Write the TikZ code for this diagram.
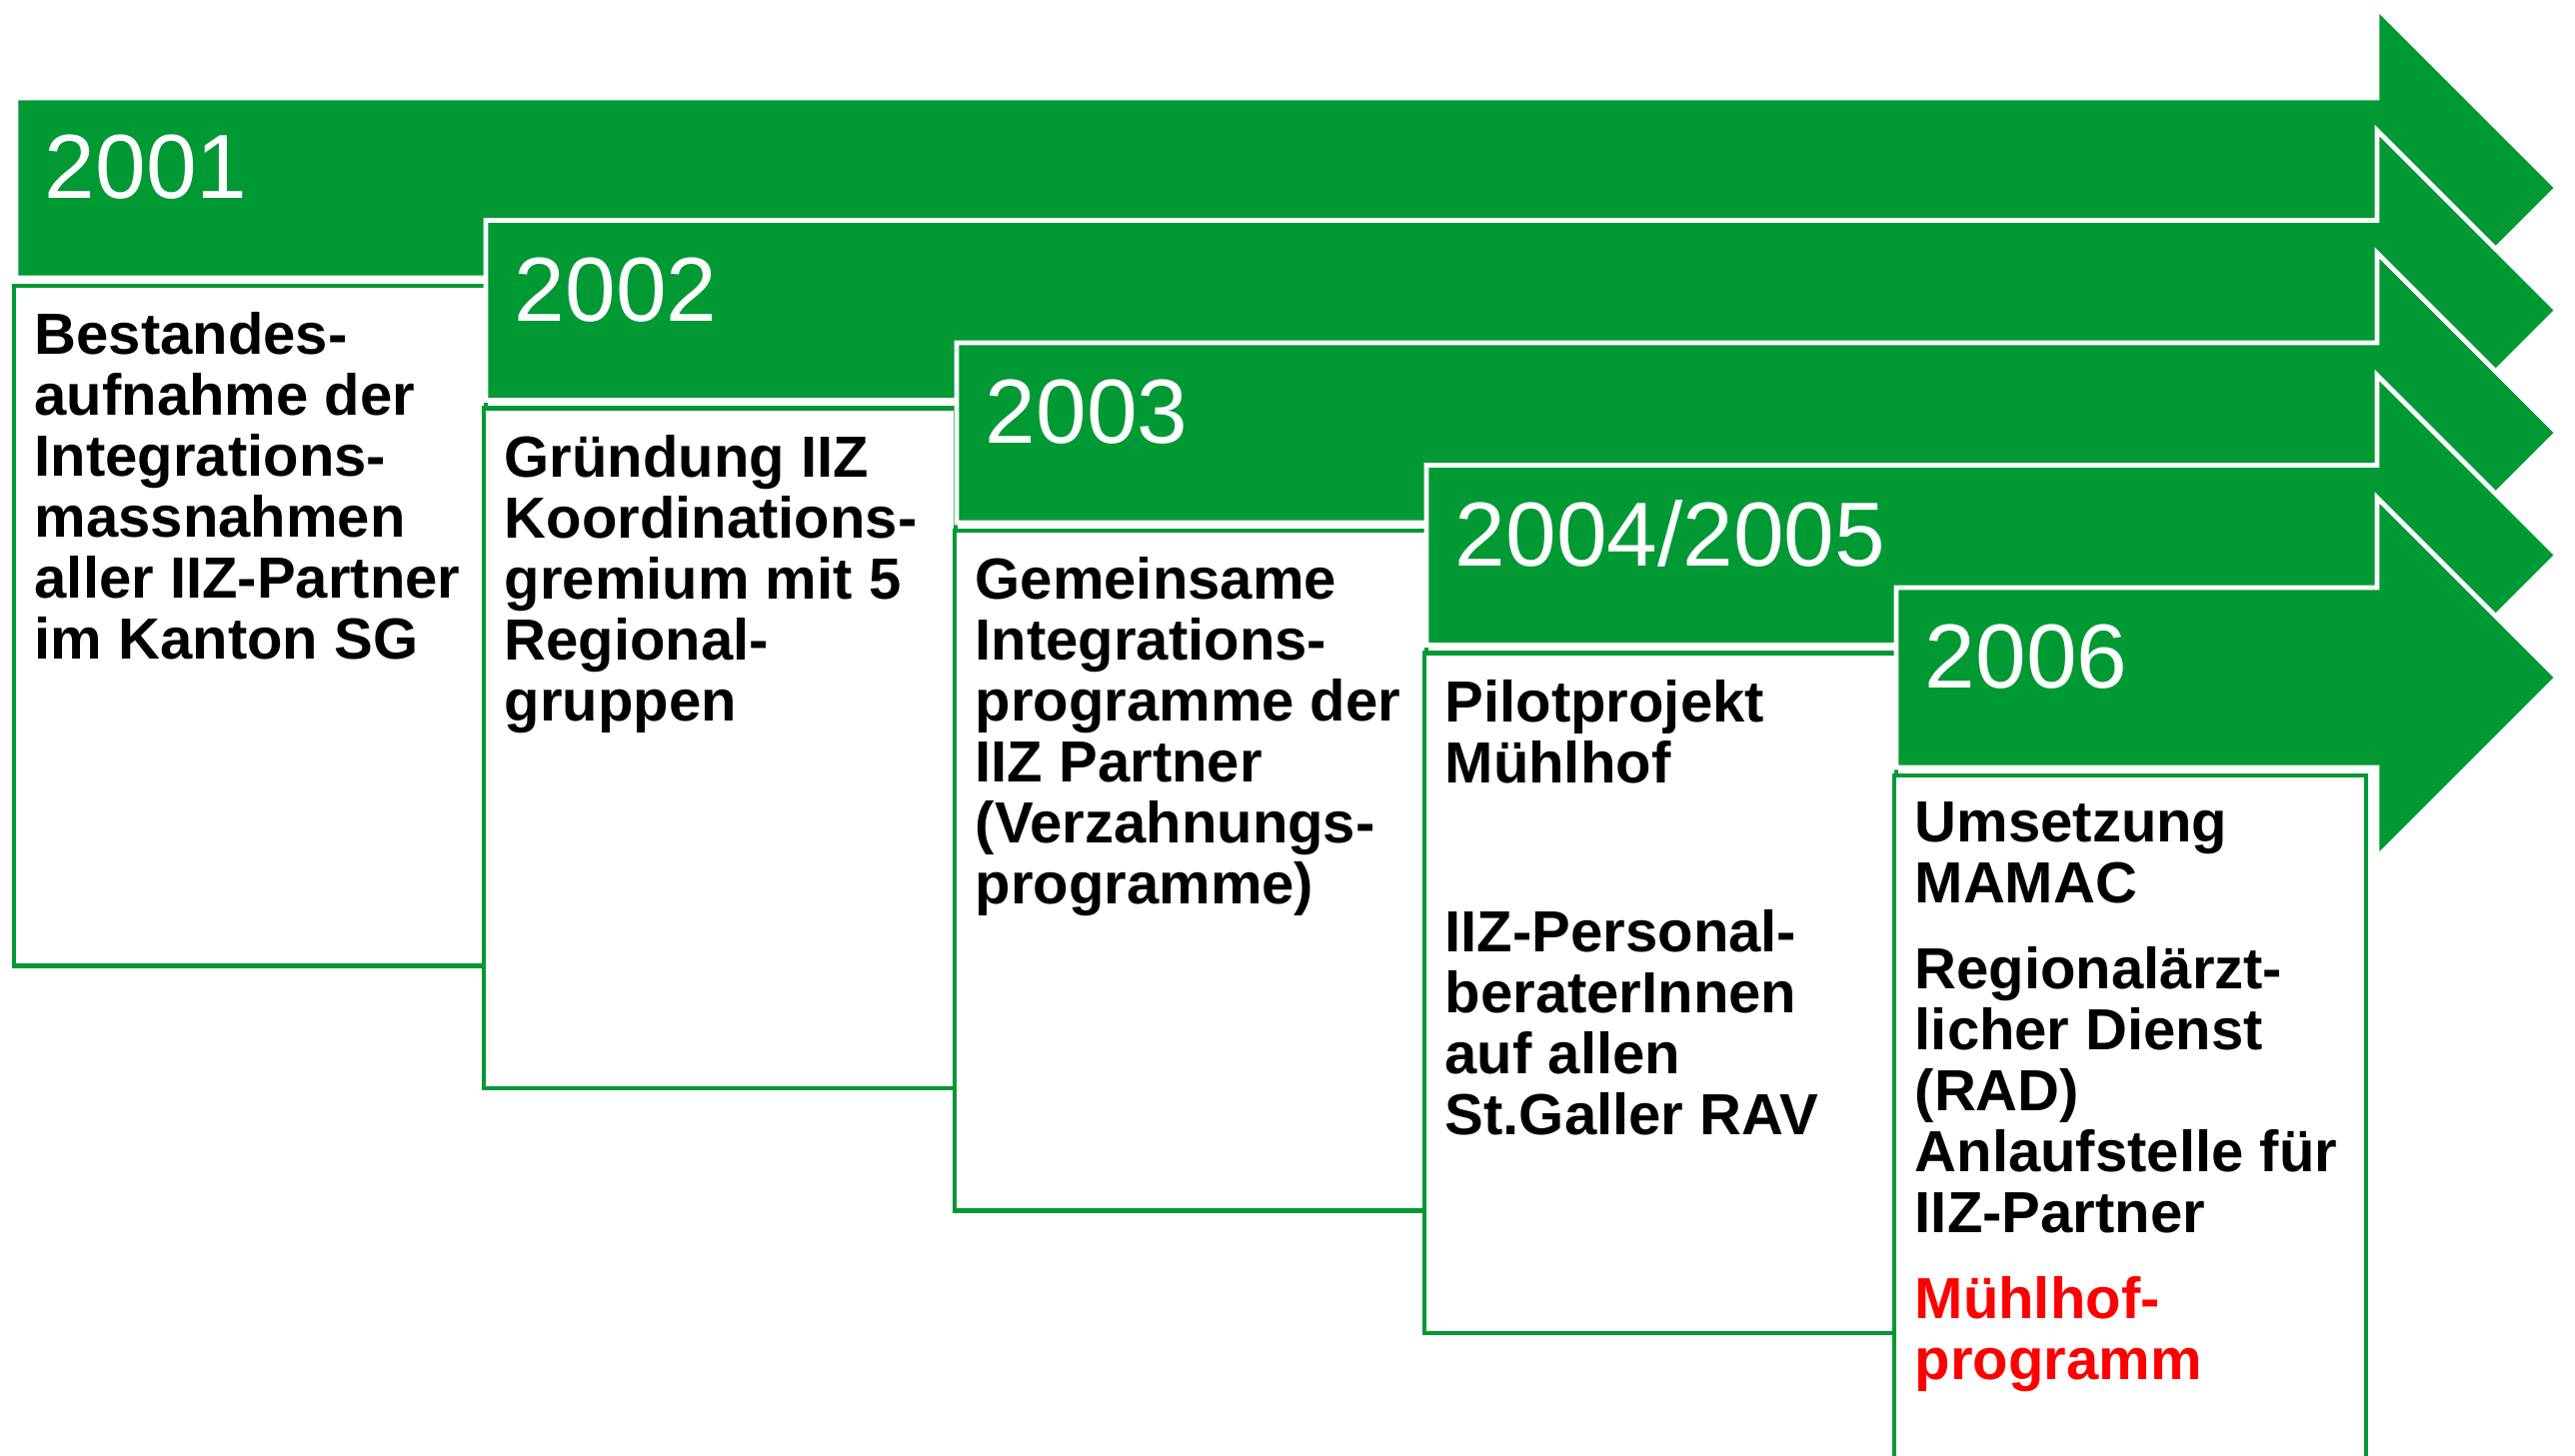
\documentclass[tikz,border=0pt]{standalone}
\usepackage{fontspec}
\setmainfont{Liberation Sans}
\usetikzlibrary{positioning}

\definecolor{iizgreen}{RGB}{0,153,51}

\begin{document}
\begin{tikzpicture}[
  x=0.01cm, y=-0.01cm,
  yearband/.style={fill=iizgreen, draw=white, line width=1.4pt, line join=miter},
  stepbox/.style={draw=iizgreen, fill=white, line width=1.2pt, minimum width=4.72cm, minimum height=6.8cm, inner sep=0pt, outer sep=0pt, anchor=north west},
  yeartext/.style={text=white, font=\fontsize{25.9pt}{31pt}\selectfont, anchor=base west, inner sep=0pt},
  boxtext/.style={font=\bfseries\fontsize{16.5pt}{17.35pt}\selectfont, align=left, anchor=north west, inner sep=0pt},
]
\useasboundingbox (0,0) rectangle (2576,1456);

% 2001
\path[yearband] (16,98) -- (2378,98) -- (2378,8) -- (2558,188) -- (2378,368) -- (2378,278) -- (16,278) -- cycle;
\node[stepbox] (box1) at (14,286) {};
\node[yeartext] (y2001) at ([xshift=0.3cm, yshift=0.87cm]box1.north west) {2001};
\node[boxtext] (txt1) at ([xshift=0.2cm, yshift=-0.26cm]box1.north west)
  {Bestandes-\\aufnahme der\\Integrations-\\massnahmen\\aller IIZ-Partner\\im Kanton SG};

% 2002
\path[yearband] (486,220.5) -- (2378,220.5) -- (2378,130.5) -- (2558,310.5) -- (2378,490.5) -- (2378,400.5) -- (486,400.5) -- cycle;
\node[stepbox] (box2) at (484,408.5) {};
\node[yeartext] (y2002) at ([xshift=0.3cm, yshift=0.87cm]box2.north west) {2002};
\node[boxtext] (txt2) at ([xshift=0.2cm, yshift=-0.26cm]box2.north west)
  {Gründung IIZ\\Koordinations-\\gremium mit 5\\Regional-\\gruppen};

% 2003
\path[yearband] (957,343) -- (2378,343) -- (2378,253) -- (2558,433) -- (2378,613) -- (2378,523) -- (957,523) -- cycle;
\node[stepbox] (box3) at (955,531) {};
\node[yeartext] (y2003) at ([xshift=0.3cm, yshift=0.87cm]box3.north west) {2003};
\node[boxtext] (txt3) at ([xshift=0.2cm, yshift=-0.26cm]box3.north west)
  {Gemeinsame\\Integrations-\\programme der\\IIZ Partner\\(Verzahnungs-\\programme)};

% 2004/2005
\path[yearband] (1427,465.5) -- (2378,465.5) -- (2378,375.5) -- (2558,555.5) -- (2378,735.5) -- (2378,645.5) -- (1427,645.5) -- cycle;
\node[stepbox] (box4) at (1425,653.5) {};
\node[yeartext] (y2004) at ([xshift=0.3cm, yshift=0.87cm]box4.north west) {2004/2005};
\node[boxtext] (txt4) at ([xshift=0.2cm, yshift=-0.26cm]box4.north west)
  {Pilotprojekt\\Mühlhof\\[1.08cm]IIZ-Personal-\\beraterInnen\\auf allen\\St.Galler RAV};

% 2006
\path[yearband] (1897,588) -- (2378,588) -- (2378,498) -- (2558,678) -- (2378,858) -- (2378,768) -- (1897,768) -- cycle;
\node[stepbox, minimum height=7cm] (box5) at (1895,776) {};
\node[yeartext] (y2006) at ([xshift=0.3cm, yshift=0.87cm]box5.north west) {2006};
\node[boxtext] (txt5) at ([xshift=0.2cm, yshift=-0.26cm]box5.north west)
  {Umsetzung\\MAMAC\\[0.25cm]Regionalärzt-\\licher Dienst\\(RAD)\\Anlaufstelle für\\IIZ-Partner\\[0.25cm]\textcolor{red}{Mühlhof-}\\\textcolor{red}{programm}};

\end{tikzpicture}
\end{document}
